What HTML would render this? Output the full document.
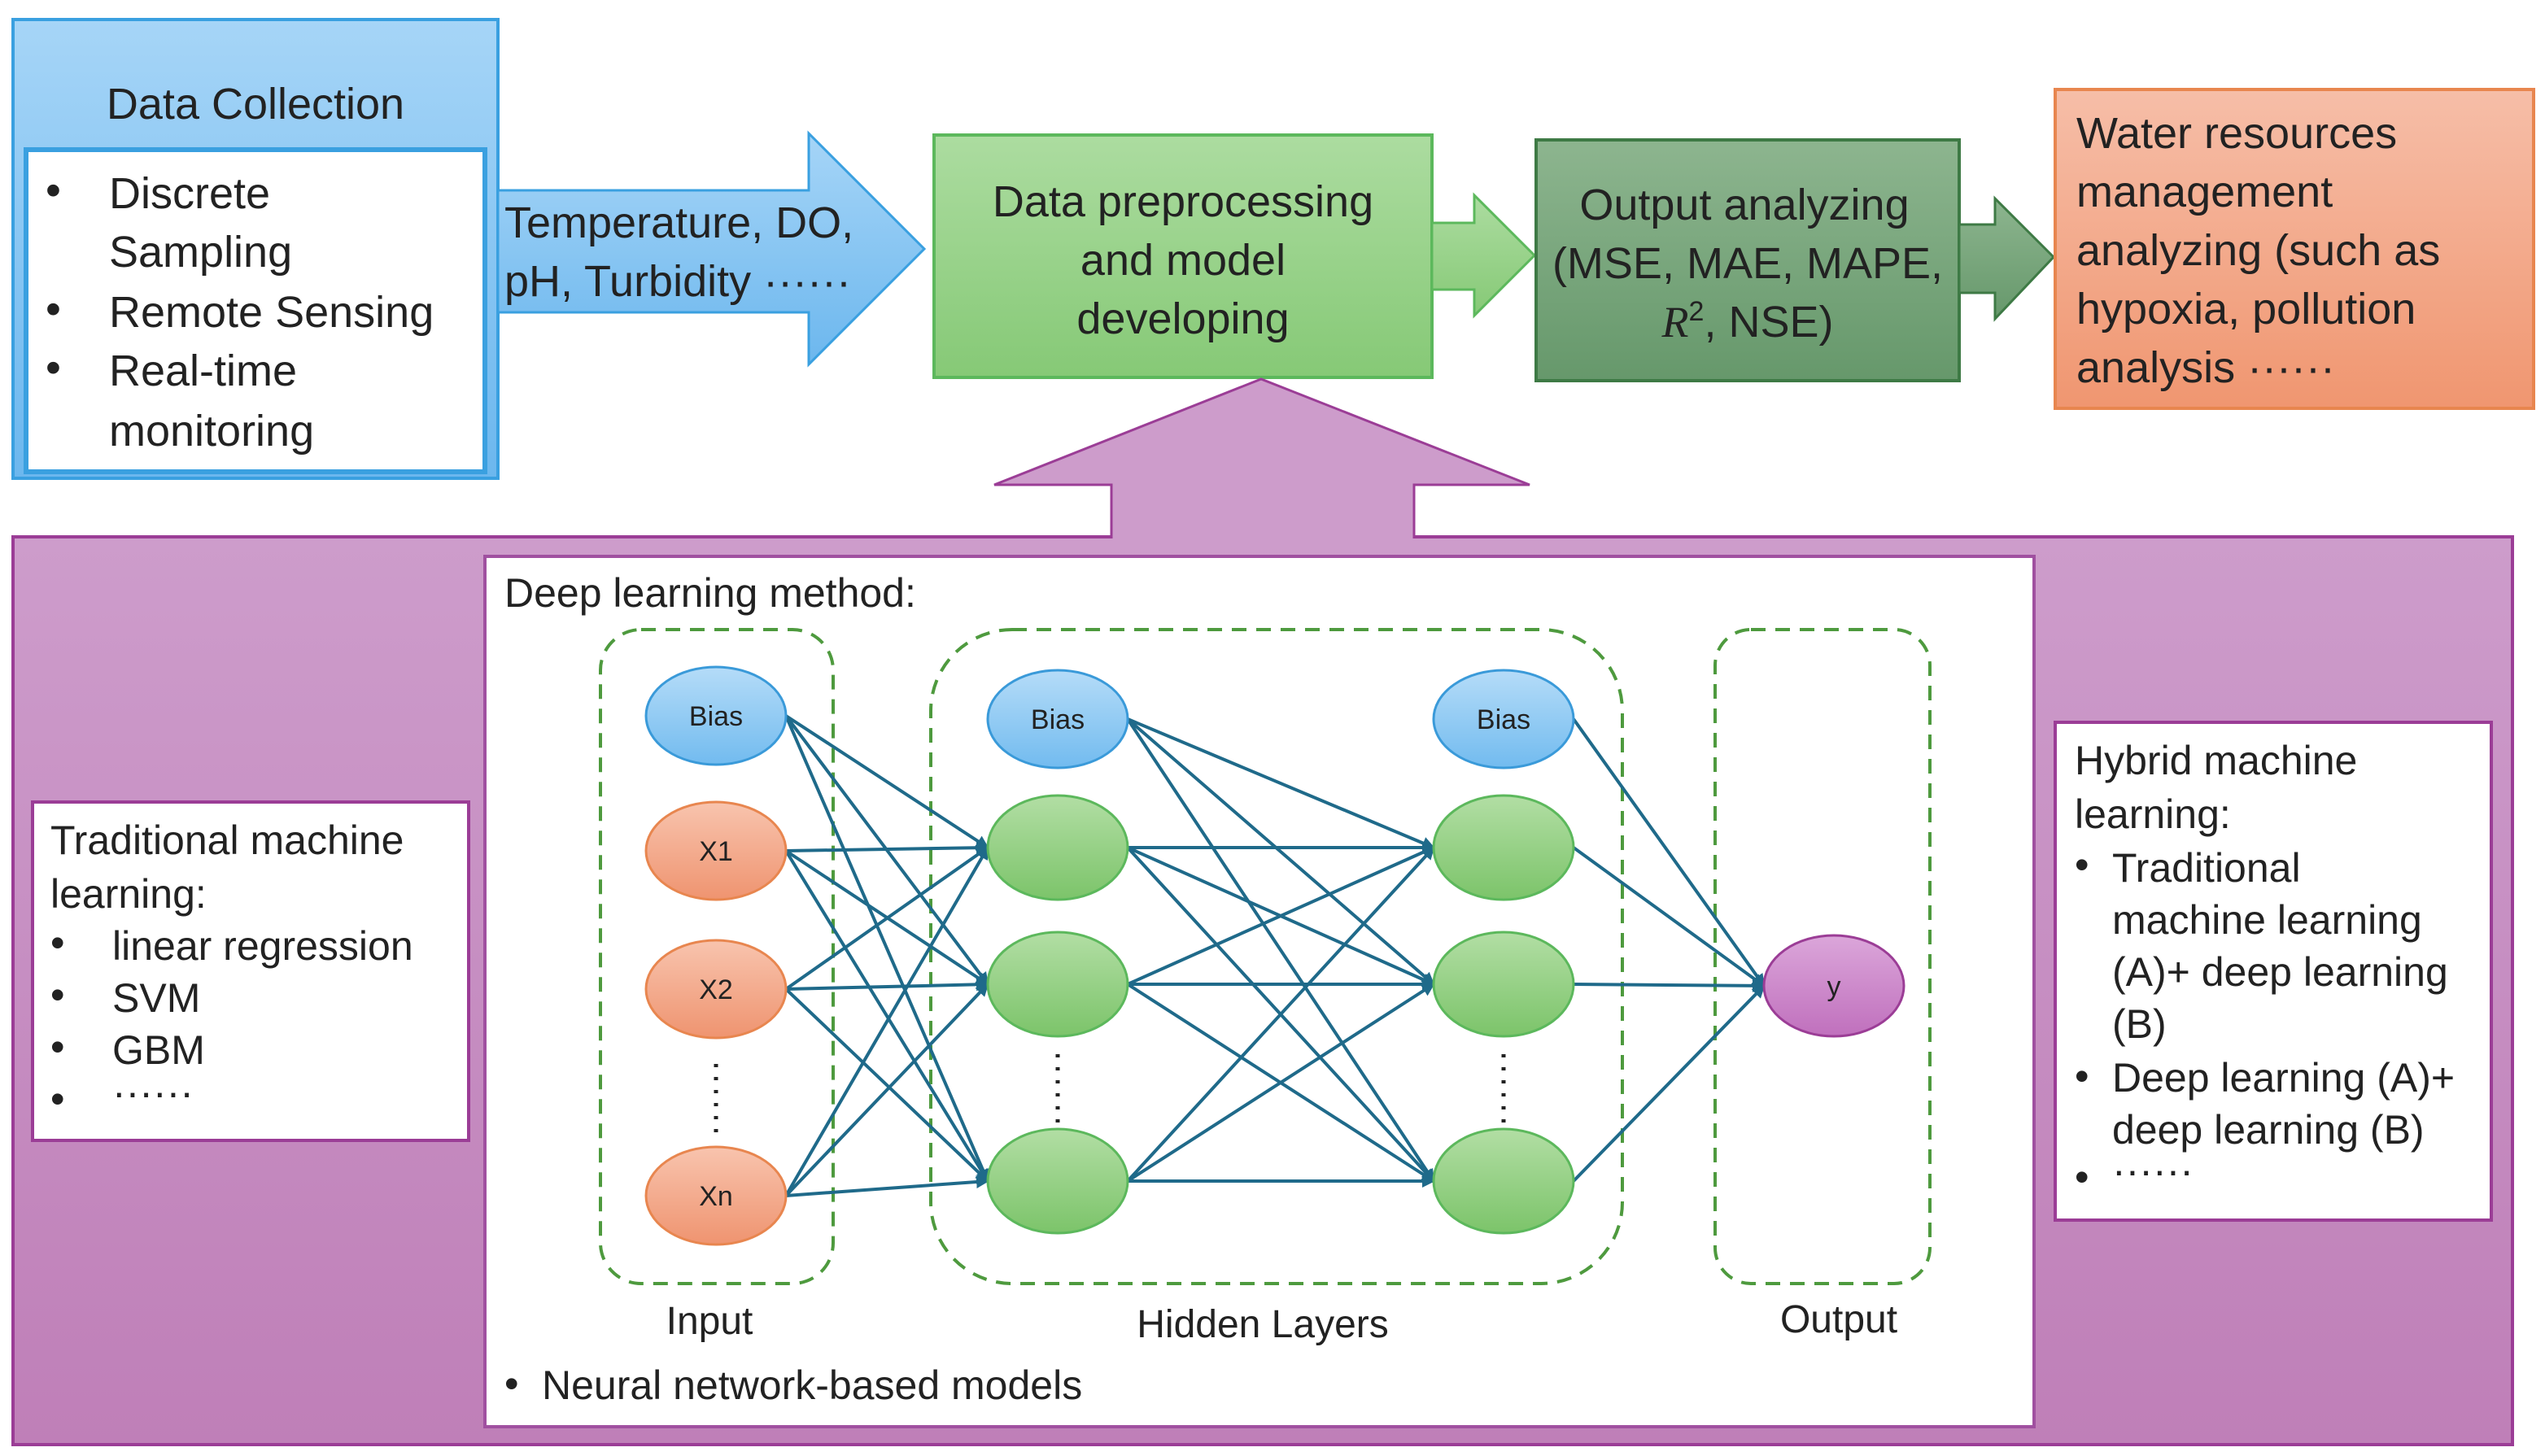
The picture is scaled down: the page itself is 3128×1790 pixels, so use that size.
<!DOCTYPE html>
<html><head><meta charset="utf-8"><style>
html,body{margin:0;padding:0;background:#fff;}
svg{display:block;}
text{font-family:"Liberation Sans","Noto Sans CJK SC",sans-serif;}
</style></head><body>
<svg width="3128" height="1790" viewBox="0 0 1564 895" xmlns="http://www.w3.org/2000/svg">
<defs>
<linearGradient id="gb" x1="0" y1="0" x2="0" y2="1"><stop offset="0" stop-color="#a6d5f7"/><stop offset="1" stop-color="#6cb7ee"/></linearGradient>
<linearGradient id="gg" x1="0" y1="0" x2="0" y2="1"><stop offset="0" stop-color="#acdca0"/><stop offset="1" stop-color="#86c976"/></linearGradient>
<linearGradient id="gd" x1="0" y1="0" x2="0" y2="1"><stop offset="0" stop-color="#8db58f"/><stop offset="1" stop-color="#66986b"/></linearGradient>
<linearGradient id="go" x1="0" y1="0" x2="0" y2="1"><stop offset="0" stop-color="#f6bea8"/><stop offset="1" stop-color="#f09670"/></linearGradient>
<linearGradient id="gp" x1="0" y1="0" x2="0" y2="1"><stop offset="0" stop-color="#cd9ccb"/><stop offset="1" stop-color="#bf7fb8"/></linearGradient>
<linearGradient id="nb" x1="0" y1="0" x2="0" y2="1"><stop offset="0" stop-color="#b5dcf8"/><stop offset="1" stop-color="#72bbef"/></linearGradient>
<linearGradient id="no" x1="0" y1="0" x2="0" y2="1"><stop offset="0" stop-color="#f8c4ae"/><stop offset="1" stop-color="#ef9470"/></linearGradient>
<linearGradient id="ng" x1="0" y1="0" x2="0" y2="1"><stop offset="0" stop-color="#b2dea4"/><stop offset="1" stop-color="#7cc46a"/></linearGradient>
<linearGradient id="np" x1="0" y1="0" x2="0" y2="1"><stop offset="0" stop-color="#dba6da"/><stop offset="1" stop-color="#c070bd"/></linearGradient>
<marker id="ar" markerWidth="8" markerHeight="8" refX="7" refY="4" orient="auto" markerUnits="userSpaceOnUse"><path d="M0,0 L8,4 L0,8 z" fill="#1f6a8a"/></marker>
</defs>

<!-- Data collection -->
<rect x="8" y="12" width="298" height="282" fill="url(#gb)" stroke="#3aa0e0" stroke-width="2"/>
<text x="157" y="73" font-size="27" text-anchor="middle" fill="#222">Data Collection</text>
<rect x="16" y="92" width="282" height="198" fill="#fff" stroke="#3aa0e0" stroke-width="3"/>
<g font-size="27" fill="#222">
<text x="28" y="126">•</text><text x="67" y="128">Discrete</text>
<text x="67" y="164">Sampling</text>
<text x="28" y="199">•</text><text x="67" y="201">Remote Sensing</text>
<text x="28" y="235">•</text><text x="67" y="237">Real-time</text>
<text x="67" y="274">monitoring</text>
</g>

<!-- blue arrow -->
<path d="M306,117 L497,117 L497,82 L568,153 L497,224 L497,192 L306,192 z" fill="url(#gb)" stroke="#3aa0e0" stroke-width="1.5"/>
<text x="310" y="146" font-size="27" fill="#222">Temperature, DO,</text>
<text x="310" y="182" font-size="27" fill="#222">pH, Turbidity ······</text>

<!-- green box -->
<rect x="574" y="83" width="306" height="149" fill="url(#gg)" stroke="#5cb85c" stroke-width="2"/>
<g font-size="27" fill="#222" text-anchor="middle">
<text x="727" y="133">Data preprocessing</text>
<text x="727" y="169">and model</text>
<text x="727" y="205">developing</text>
</g>
<path d="M880,137 L906,137 L906,120 L943,157 L906,194 L906,178 L880,178 z" fill="url(#gg)" stroke="#5cb85c" stroke-width="1.5"/>

<!-- dark green -->
<rect x="944" y="86" width="260" height="148" fill="url(#gd)" stroke="#3e7a45" stroke-width="2"/>
<g font-size="27" fill="#222" text-anchor="middle">
<text x="1072" y="135">Output analyzing</text>
<text x="1074" y="171">(MSE, MAE, MAPE,</text>
<text x="1074" y="207"><tspan font-family="Liberation Serif" font-style="italic">R</tspan><tspan font-size="17" dy="-10">2</tspan><tspan dy="10">, NSE)</tspan></text>
</g>
<path d="M1204,138 L1226,138 L1226,122 L1262,158 L1226,196 L1226,180 L1204,180 z" fill="url(#gd)" stroke="#3e7a45" stroke-width="1.5"/>

<!-- orange -->
<rect x="1263" y="55" width="294" height="196" fill="url(#go)" stroke="#e8864f" stroke-width="2"/>
<g font-size="27" fill="#222">
<text x="1276" y="91">Water resources</text>
<text x="1276" y="127">management</text>
<text x="1276" y="163">analyzing (such as</text>
<text x="1276" y="199">hypoxia, pollution</text>
<text x="1276" y="235">analysis ······</text>
</g>

<!-- purple up arrow + box -->
<rect x="8" y="330" width="1536" height="558" fill="url(#gp)" stroke="#9b3d96" stroke-width="2"/>
<path d="M683,331 L683,298 L611,298 L775,233 L940,298 L869,298 L869,331" fill="#cd9ccb" stroke="#9b3d96" stroke-width="1.5"/>

<!-- left box -->
<rect x="20" y="493" width="268" height="208" fill="#fff" stroke="#9b3d96" stroke-width="2"/>
<g font-size="25" fill="#222">
<text x="31" y="525">Traditional machine</text>
<text x="31" y="558">learning:</text>
<text x="31" y="588">•</text><text x="69" y="590">linear regression</text>
<text x="31" y="620">•</text><text x="69" y="622">SVM</text>
<text x="31" y="652">•</text><text x="69" y="654">GBM</text>
<text x="31" y="684">•</text><text x="69" y="680">······</text>
</g>

<!-- right box -->
<rect x="1263" y="444" width="268" height="306" fill="#fff" stroke="#9b3d96" stroke-width="2"/>
<g font-size="25" fill="#222">
<text x="1275" y="476">Hybrid machine</text>
<text x="1275" y="509">learning:</text>
<text x="1275" y="540">•</text><text x="1298" y="542">Traditional</text>
<text x="1298" y="574">machine learning</text>
<text x="1298" y="606">(A)+ deep learning</text>
<text x="1298" y="638">(B)</text>
<text x="1275" y="670">•</text><text x="1298" y="671">Deep learning (A)+</text>
<text x="1298" y="703">deep learning (B)</text>
<text x="1275" y="732">•</text><text x="1298" y="728">······</text>
</g>

<!-- main white box -->
<rect x="298" y="342" width="952" height="535" fill="#fff" stroke="#a050a0" stroke-width="2"/>
<text x="310" y="373" font-size="25" fill="#222">Deep learning method:</text>
<text x="310" y="859" font-size="25" fill="#222">•</text>
<text x="333" y="860" font-size="25" fill="#222">Neural network-based models</text>

<!-- dashed groups -->
<g fill="none" stroke="#4e9a3e" stroke-width="2" stroke-dasharray="9,6">
<rect x="369" y="387" width="143" height="402" rx="25"/>
<rect x="572" y="387" width="425" height="402" rx="50"/>
<rect x="1054" y="387" width="132" height="402" rx="22"/>
</g>
<g font-size="24" fill="#222" text-anchor="middle">
<text x="436" y="820">Input</text>
<text x="776" y="822">Hidden Layers</text>
<text x="1130" y="819">Output</text>
</g>

<!-- edges -->
<g stroke="#1f6a8a" stroke-width="2" marker-end="url(#ar)">
<line x1="483" y1="440" x2="607" y2="521"/><line x1="483" y1="440" x2="607" y2="605"/><line x1="483" y1="440" x2="607" y2="726"/>
<line x1="483" y1="523" x2="607" y2="521"/><line x1="483" y1="523" x2="607" y2="605"/><line x1="483" y1="523" x2="607" y2="726"/>
<line x1="483" y1="608" x2="607" y2="521"/><line x1="483" y1="608" x2="607" y2="605"/><line x1="483" y1="608" x2="607" y2="726"/>
<line x1="483" y1="735" x2="607" y2="521"/><line x1="483" y1="735" x2="607" y2="605"/><line x1="483" y1="735" x2="607" y2="726"/>
<line x1="693" y1="442" x2="881" y2="521"/><line x1="693" y1="442" x2="881" y2="605"/><line x1="693" y1="442" x2="881" y2="726"/>
<line x1="693" y1="521" x2="881" y2="521"/><line x1="693" y1="521" x2="881" y2="605"/><line x1="693" y1="521" x2="881" y2="726"/>
<line x1="693" y1="605" x2="881" y2="521"/><line x1="693" y1="605" x2="881" y2="605"/><line x1="693" y1="605" x2="881" y2="726"/>
<line x1="693" y1="726" x2="881" y2="521"/><line x1="693" y1="726" x2="881" y2="605"/><line x1="693" y1="726" x2="881" y2="726"/>
<line x1="967" y1="442" x2="1084" y2="606"/><line x1="967" y1="521" x2="1084" y2="606"/>
<line x1="967" y1="605" x2="1084" y2="606"/><line x1="967" y1="726" x2="1084" y2="606"/>
</g>

<!-- nodes -->
<g stroke-width="1.5" font-size="17" text-anchor="middle" fill="#222">
<ellipse cx="440" cy="440" rx="43" ry="30" fill="url(#nb)" stroke="#3a9ad9"/>
<ellipse cx="440" cy="523" rx="43" ry="30" fill="url(#no)" stroke="#e8864f"/>
<ellipse cx="440" cy="608" rx="43" ry="30" fill="url(#no)" stroke="#e8864f"/>
<ellipse cx="440" cy="735" rx="43" ry="30" fill="url(#no)" stroke="#e8864f"/>
<ellipse cx="650" cy="442" rx="43" ry="30" fill="url(#nb)" stroke="#3a9ad9"/>
<ellipse cx="650" cy="521" rx="43" ry="32" fill="url(#ng)" stroke="#5cb85c"/>
<ellipse cx="650" cy="605" rx="43" ry="32" fill="url(#ng)" stroke="#5cb85c"/>
<ellipse cx="650" cy="726" rx="43" ry="32" fill="url(#ng)" stroke="#5cb85c"/>
<ellipse cx="924" cy="442" rx="43" ry="30" fill="url(#nb)" stroke="#3a9ad9"/>
<ellipse cx="924" cy="521" rx="43" ry="32" fill="url(#ng)" stroke="#5cb85c"/>
<ellipse cx="924" cy="605" rx="43" ry="32" fill="url(#ng)" stroke="#5cb85c"/>
<ellipse cx="924" cy="726" rx="43" ry="32" fill="url(#ng)" stroke="#5cb85c"/>
<ellipse cx="1127" cy="606" rx="43" ry="31" fill="url(#np)" stroke="#9b3d96"/>
</g>
<g font-size="17" text-anchor="middle" fill="#222">
<text x="440" y="446">Bias</text><text x="440" y="529">X1</text><text x="440" y="614">X2</text><text x="440" y="741">Xn</text>
<text x="650" y="448">Bias</text><text x="924" y="448">Bias</text><text x="1127" y="612">y</text>
</g>
<g stroke="#222" stroke-width="2.5" stroke-dasharray="2,6">
<line x1="440" y1="654" x2="440" y2="698"/>
<line x1="650" y1="648" x2="650" y2="692"/>
<line x1="924" y1="648" x2="924" y2="692"/>
</g>
</svg>
</body></html>
